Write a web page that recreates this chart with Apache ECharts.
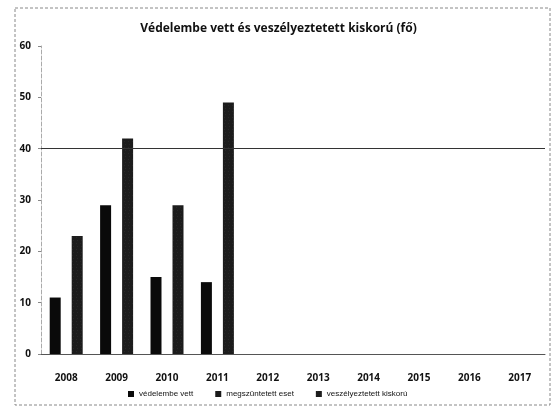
<!DOCTYPE html>
<html>
<head>
<meta charset="utf-8">
<script src="https://cdn.jsdelivr.net/npm/echarts@6/dist/echarts.min.js"></script>
<style>
  html, body { margin: 0; padding: 0; background: #fff; }
  #chart { width: 557px; height: 408px; }
</style>
</head>
<body>
<div id="chart"></div>
<script>
// adatok
var years = ["2008", "2009", "2010", "2011", "2012", "2013", "2014", "2015", "2016", "2017"];
var vedelembeVett = [11, 29, 15, 14, 0, 0, 0, 0, 0, 0];
var megszuntetett = [0, 0, 0, 0, 0, 0, 0, 0, 0, 0];
var veszelyeztetett = [23, 42, 29, 49, 0, 0, 0, 0, 0, 0];
var seriesNames = ["védelembe vett", "megszüntetett eset", "veszélyeztetett kiskorú"];

(function () {
  var myChart = echarts.init(document.getElementById("chart"));
  var font = "'Open Sans', 'Noto Sans', sans-serif";
  var option = {
    animation: false,
    backgroundColor: "#fff",
    title: {
      text: "Védelembe vett és veszélyeztetett kiskorú (fő)",
      left: "center",
      top: 18,
      textStyle: { fontFamily: font, fontSize: 12, fontWeight: "bold", color: "#111" }
    },
    // külső szaggatott keret
    graphic: [{
      type: "rect",
      shape: { x: 15, y: 8, width: 535, height: 397 },
      style: { fill: "none", stroke: "#888", lineWidth: 1, lineDash: [3, 2] },
      silent: true
    }],
    legend: {
      bottom: 10,
      left: 128,
      padding: 0,
      itemWidth: 6,
      itemHeight: 6,
      itemGap: 22,
      icon: "rect",
      textStyle: { fontFamily: "'Liberation Sans', sans-serif", fontSize: 8, color: "#111" },
      data: seriesNames
    },
    grid: { left: 41, right: 12, top: 46, bottom: 54 },
    xAxis: {
      type: "category",
      data: years,
      axisTick: { show: false },
      axisLine: { lineStyle: { color: "#555", width: 1 } },
      axisLabel: { fontFamily: font, fontSize: 10, fontWeight: "bold", color: "#111", margin: 19 }
    },
    yAxis: {
      type: "value",
      min: 0,
      max: 60,
      interval: 10,
      axisLine: { show: true, lineStyle: { color: "#aaa", type: "dashed" } },
      axisTick: { show: true, length: 3, lineStyle: { color: "#888" } },
      splitLine: { show: false },
      axisLabel: { fontFamily: font, fontSize: 10, fontWeight: "bold", color: "#111", margin: 10 }
    },
    series: [
      {
        name: seriesNames[0],
        type: "bar",
        barWidth: 11,
        barGap: "0%",
        itemStyle: { color: "#0a0a0a" },
        data: vedelembeVett,
        // vízszintes vonal a 40-es szintnél
        markLine: {
          silent: true,
          symbol: "none",
          label: { show: false },
          lineStyle: { color: "#333", type: "solid", width: 1 },
          data: [{ yAxis: 40 }]
        }
      },
      {
        name: seriesNames[1],
        type: "bar",
        barWidth: 11,
        barGap: "0%",
        itemStyle: { color: "#1a1a1a" },
        data: megszuntetett
      },
      {
        name: seriesNames[2],
        type: "bar",
        barWidth: 11,
        barGap: "0%",
        itemStyle: {
          color: "#1c1c1c",
          decal: {
            symbol: "rect",
            symbolSize: 0.3,
            color: "rgba(255,255,255,0.35)",
            dashArrayX: [[1, 3], [0, 1, 1, 2]],
            dashArrayY: [1, 2],
            rotation: 0
          }
        },
        data: veszelyeztetett
      }
    ]
  };
  myChart.setOption(option);
  window.addEventListener("resize", function () {
    myChart.resize();
  });
})();
</script>
</body>
</html>
